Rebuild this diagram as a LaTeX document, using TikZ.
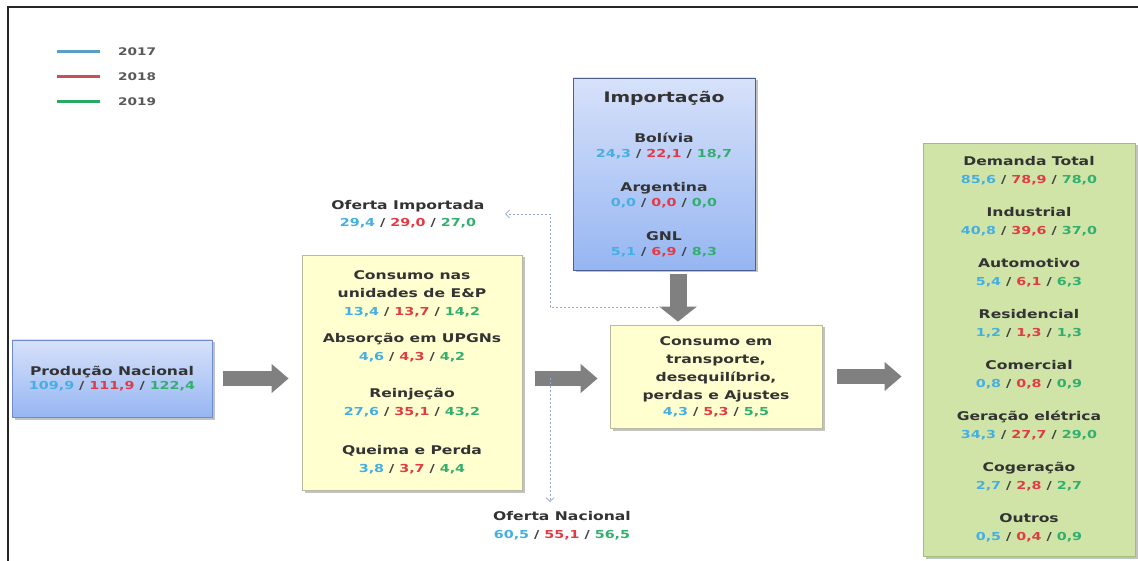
\documentclass[tikz,border=0pt]{standalone}
\usepackage{fontspec}
\setmainfont{DejaVu Sans}[FakeStretch=1.3]
\usetikzlibrary{positioning, arrows.meta, calc, shadows}

\definecolor{y17}{RGB}{70,175,225}
\definecolor{y18}{RGB}{225,60,70}
\definecolor{y19}{RGB}{50,175,110}
\definecolor{leg17}{RGB}{90,160,195}
\definecolor{leg18}{RGB}{200,80,90}
\definecolor{leg19}{RGB}{40,170,100}
\definecolor{bluetop}{RGB}{215,225,250}
\definecolor{bluebot}{RGB}{150,182,242}
\definecolor{blueline}{RGB}{110,140,205}
\definecolor{impline}{RGB}{75,95,145}
\definecolor{yellowfill}{RGB}{255,255,208}
\definecolor{yellowline}{RGB}{185,185,160}
\definecolor{greenfill}{RGB}{208,228,168}
\definecolor{greenline}{RGB}{160,190,120}
\definecolor{arrowgray}{RGB}{128,128,128}
\definecolor{dashblue}{RGB}{150,170,210}

% values of the three years
\newcommand{\vals}[3]{{\fontsize{11}{18}\selectfont\color{black!75}\textcolor{y17}{#1} / \textcolor{y18}{#2} / \textcolor{y19}{#3}}}

\begin{document}
\begin{tikzpicture}[
		x=1pt, y=-1pt, >=stealth,
		lbl/.style={font=\bfseries\fontsize{12}{18}\selectfont, text=black!80, align=center},
		boxshadow/.style={drop shadow={opacity=0.4, shadow xshift=2.5pt, shadow yshift=-2.5pt, fill=black!60}},
		bluebox/.style={lbl, draw=blueline, line width=0.8pt, top color=bluetop, bottom color=bluebot, boxshadow},
		yellowbox/.style={lbl, draw=yellowline, line width=0.8pt, fill=yellowfill, boxshadow},
		greenbox/.style={lbl, draw=greenline, line width=0.8pt, fill=greenfill, boxshadow},
		bigarrow/.style={draw=arrowgray, line width=15pt, -{Triangle[width=28pt, length=17pt]}},
		dashlink/.style={draw=dashblue, line width=0.8pt, dash pattern=on 2pt off 2pt, -{Straight Barb[length=4pt, width=8pt]}},
		legtext/.style={font=\bfseries\fontsize{10.5}{12}\selectfont, text=black!65, anchor=west, inner sep=0pt},
		legline/.style={line width=3pt}
		]
		\useasboundingbox (0,0) rectangle (1138,561);
		\draw[black!85, line width=2pt] (1138,7) -- (8,7) -- (8,561);
		
		% ==========================================
		% 1. LEGEND
		% ==========================================
		\node[legtext] (l17) at (118,52) {2017};
		\node[legtext] (l18) at (118,77) {2018};
		\node[legtext] (l19) at (118,102) {2019};
		\draw[legline, leg17] ([xshift=-18pt]l17.west) -- ++(-43,0);
		\draw[legline, leg18] ([xshift=-18pt]l18.west) -- ++(-43,0);
		\draw[legline, leg19] ([xshift=-18pt]l19.west) -- ++(-43,0);
		
		% ==========================================
		% 2. BOXES
		% ==========================================
		\node[bluebox, minimum width=200pt, minimum height=77pt] (prod) at (112,378.5) {
			Produção Nacional\\[-4pt]\vals{109,9}{111,9}{122,4}};
		
		\node[yellowbox, minimum width=220pt, minimum height=235pt] (cons) at (412,372.5) {
			Consumo nas\\unidades de E\&P\\\vals{13,4}{13,7}{14,2}\\[9pt]
			Absorção em UPGNs\\\vals{4,6}{4,3}{4,2}\\[19pt]
			Reinjeção\\\vals{27,6}{35,1}{43,2}\\[21pt]
			Queima e Perda\\\vals{3,8}{3,7}{4,4}};
		
		\node[bluebox, draw=impline, minimum width=182pt, minimum height=192pt] (imp) at (664,174) {
			{\fontsize{14.5}{18}\selectfont Importação}\\[22pt]
			Bolívia\\[-3pt]\vals{24,3}{22,1}{18,7}\\[16pt]
			Argentina\\[-3pt]\vals{0,0}{0,0}{0,0}\\[16pt]
			GNL\\[-3pt]\vals{5,1}{6,9}{8,3}};
		
		\node[yellowbox, minimum width=212pt, minimum height=103pt] (trans) at (716,376.5) {
			Consumo em\\transporte,\\desequilíbrio,\\perdas e Ajustes\\[-2pt]\vals{4,3}{5,3}{5,5}};
		
		\node[greenbox, minimum width=212pt, minimum height=413pt] (dem) at (1029,349.5) {
			Demanda Total\\\vals{85,6}{78,9}{78,0}\\[15pt]
			Industrial\\\vals{40,8}{39,6}{37,0}\\[15pt]
			Automotivo\\\vals{5,4}{6,1}{6,3}\\[15pt]
			Residencial\\\vals{1,2}{1,3}{1,3}\\[15pt]
			Comercial\\\vals{0,8}{0,8}{0,9}\\[15pt]
			Geração elétrica\\\vals{34,3}{27,7}{29,0}\\[15pt]
			Cogeração\\\vals{2,7}{2,8}{2,7}\\[15pt]
			Outros\\\vals{0,5}{0,4}{0,9}};
		
		% side labels
		\node[lbl] (ofimp) at (408,214) {Oferta Importada\\[-1pt]\vals{29,4}{29,0}{27,0}};
		\node[lbl] (ofnac) at (562,526) {Oferta Nacional\\\vals{60,5}{55,1}{56,5}};
		
		% ==========================================
		% 3. FLOWS
		% ==========================================
		\draw[bigarrow, shorten <=11pt, shorten >=13pt] (prod.east) -- (prod.east -| cons.west);
		\draw[bigarrow, shorten <=13pt, shorten >=12pt] (prod.east -| cons.east) -- (prod.east -| trans.west);
		\draw[bigarrow, shorten <=15pt, shorten >=21pt] (trans.east) -- (trans.east -| dem.west);
		
		\coordinate (dnx) at (678,0);
		\draw[bigarrow, line width=17pt, -{Triangle[width=37pt, length=15pt]}, shorten <=4pt, shorten >=3pt] (dnx |- imp.south) -- (dnx |- trans.north);
		
		% dashed split of the supply
		\coordinate (split) at (550,378);
		\coordinate (tap) at (662,307);
		\draw[dashlink, shorten >=6pt] (split) -- (split |- ofnac.north);
		\draw[dashlink, shorten >=17pt] (tap) -- (tap -| split) |- (ofimp.east);
		
	\end{tikzpicture}
\end{document}
